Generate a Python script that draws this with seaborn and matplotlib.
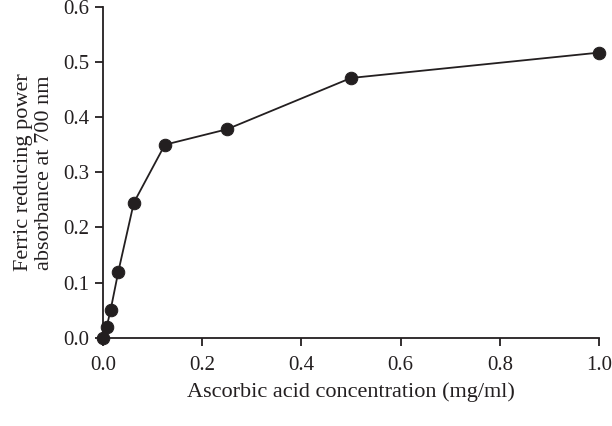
import numpy as np
import pandas as pd
import matplotlib
matplotlib.use('Agg')
import matplotlib.pyplot as plt
import seaborn as sns

concentration = [0.0, 0.0078, 0.0156, 0.03125, 0.0625, 0.125, 0.25, 0.5, 1.0]
absorbance = [0.0, 0.02, 0.05, 0.12, 0.245, 0.35, 0.378, 0.471, 0.517]
xticks = [0.0, 0.2, 0.4, 0.6, 0.8, 1.0]
yticks = [0.0, 0.1, 0.2, 0.3, 0.4, 0.5, 0.6]

sns.set_style('ticks')
plt.rcParams['font.family'] = ['Liberation Serif', 'DejaVu Serif']

df = pd.DataFrame({'conc': concentration, 'abs': absorbance})
ink = '#231f20'

fig = plt.figure(figsize=(6.12, 4.26), dpi=100)
ax = fig.add_axes([0.168, 0.207, 0.811, 0.777])
sns.lineplot(data=df, x='conc', y='abs', ax=ax, color=ink, linewidth=1.3,
             marker='o', markersize=9, markeredgecolor=ink, markerfacecolor=ink)

ax.set_xlim(0, 1.0)
ax.set_ylim(0, 0.6)
ax.set_xticks(xticks)
ax.set_yticks(yticks)
ax.set_xticklabels(['%.1f' % t for t in xticks])
ax.set_yticklabels(['%.1f' % t for t in yticks])
ax.tick_params(labelsize=15, colors=ink, width=1.3, length=6, direction='out', pad=4)
ax.tick_params(axis='x', pad=7)
ax.set_xlabel('Ascorbic acid concentration (mg/ml)', fontsize=16, color=ink, labelpad=5)
ax.set_ylabel('Ferric reducing power\nabsorbance at 700 nm', fontsize=16, color=ink,
              linespacing=1.2, labelpad=6)
for s in ['left', 'bottom']:
    ax.spines[s].set_linewidth(1.3)
    ax.spines[s].set_color(ink)
ax.spines['top'].set_visible(False)
ax.spines['right'].set_visible(False)
for l in ax.lines:
    l.set_clip_on(False)

fig.savefig('out.png', dpi=100)
